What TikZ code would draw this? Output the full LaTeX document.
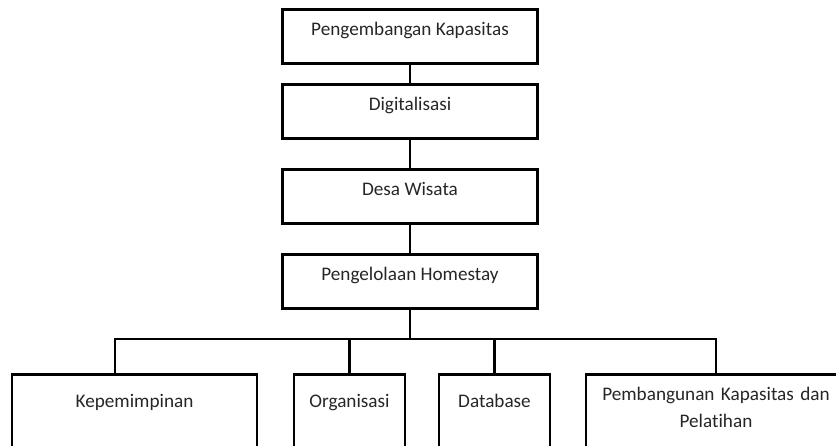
\documentclass[tikz,border=0pt]{standalone}
\usepackage{fontspec}
\setmainfont[Ligatures=NoCommon]{Carlito}
\usetikzlibrary{calc}

\tikzset{
  kotak/.style={draw, line width=\TebalGaris, inner xsep=0pt, inner ysep=0pt,
    anchor=north, minimum width=#1, text=black!85,
    text height=26pt, text depth=28pt},
  kotakbawah/.style={kotak=#1, text height=33pt, text depth=80pt},
  garis/.style={line width=\TebalGaris},
}

\begin{document}
\begin{tikzpicture}[x=1pt,y=-1pt,font=\fontsize{19.2}{27}\selectfont]

\def \TebalGaris {2.8pt}
\def \LebarAtas {255pt}

% bingkai gambar
\path[use as bounding box] (0,0) rectangle (836,445);
\clip (0,0) rectangle (836,445);

% kotak bagian atas
\node[kotak=\LebarAtas] (kapasitas) at (410,8) {Pengembangan Kapasitas};
\node[kotak=\LebarAtas] (digital) at (410,83) {Digitalisasi};
\node[kotak=\LebarAtas] (desa) at (410,168) {Desa Wisata};
\node[kotak=\LebarAtas] (homestay) at (410,253) {Pengelolaan Homestay};

\draw[garis] (kapasitas) -- (digital);
\draw[garis] (digital) -- (desa);
\draw[garis] (desa) -- (homestay);

% kotak bagian bawah
\node[kotakbawah=245pt] (pimpin) at (134.5,373) {Kepemimpinan};
\node[kotakbawah=111pt] (organisasi) at (349.5,373) {Organisasi};
\node[kotakbawah=111pt] (database) at (494.5,373) {Database};
\node[kotakbawah=260pt, text height=26pt, text width=250pt, align=center]
  (pelatihan) at (716,373) {Pembangunan Kapasitas dan\\Pelatihan};

% percabangan
\coordinate (kiri) at (115,339);
\coordinate (kanan) at (716,339);
\draw[garis] (homestay.south) -- (homestay.south |- kiri);
\draw[garis] (kiri |- pimpin.north) -- (kiri) -- (kanan) -- (pelatihan.north);
\draw[garis] (organisasi.north |- kiri) -- (organisasi.north);
\draw[garis] (database.north |- kiri) -- (database.north);

\end{tikzpicture}
\end{document}
